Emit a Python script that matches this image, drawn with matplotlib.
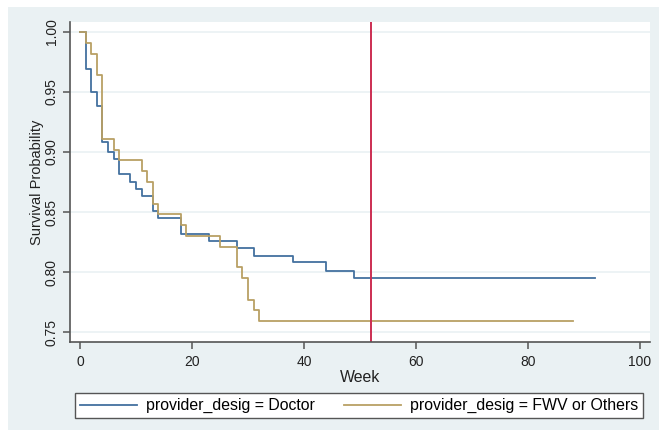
import matplotlib
matplotlib.use("Agg")
import matplotlib.pyplot as plt
import matplotlib.patches as mpatches
import numpy as np

# ── data ──
doctor_weeks = [0, 1, 2, 3, 4, 5, 6, 7, 9, 10, 11, 13, 14, 18, 23, 28, 31, 38, 44, 49, 92]
doctor_surv = [1.000, 0.969, 0.950, 0.938, 0.908, 0.900, 0.894, 0.882, 0.875, 0.869,
               0.863, 0.851, 0.845, 0.832, 0.826, 0.820, 0.813, 0.808, 0.801, 0.795, 0.795]

fwv_weeks = [0, 1, 2, 3, 4, 6, 7, 11, 12, 13, 14, 18, 19, 25, 28, 29, 30, 31, 32, 88]
fwv_surv = [1.000, 0.991, 0.982, 0.964, 0.911, 0.902, 0.893, 0.884, 0.875, 0.857,
            0.848, 0.839, 0.830, 0.821, 0.804, 0.795, 0.777, 0.768, 0.759, 0.759]

cutoff_week = 52
y_ticks = [0.75, 0.80, 0.85, 0.90, 0.95, 1.00]
x_ticks = [0, 20, 40, 60, 80, 100]
labels = ["provider_desig = Doctor", "provider_desig = FWV or Others"]

# ── style ──
BG = "#eaf1f3"
BLUE = "#43719f"
GOLD = "#b9a064"
RED = "#cc2e52"
AXIS = "#555555"
W, H = 659, 432

plt.rcParams["font.family"] = ["Liberation Sans", "DejaVu Sans"]

fig = plt.figure(figsize=(W / 100, H / 100), dpi=100)
fig.patch.set_facecolor("white")
fig.add_artist(mpatches.Rectangle((8 / W, 2 / H), 1 - 8 / W, (430 - 7) / H,
                                  transform=fig.transFigure, facecolor=BG,
                                  edgecolor="none", zorder=-10))

ax = fig.add_axes([70 / W, (H - 342) / H, 580 / W, 320 / H])
ax.set_facecolor("white")

ax.step(doctor_weeks, doctor_surv, where="post", color=BLUE, lw=1.3, label=labels[0])
ax.step(fwv_weeks, fwv_surv, where="post", color=GOLD, lw=1.3, label=labels[1])
ax.axvline(cutoff_week, color=RED, lw=1.4)

ax.set_xlim(-1.79, 101.8)
ax.set_ylim(0.7417, 1.0083)
ax.set_xticks(x_ticks)
ax.set_yticks(y_ticks)
ax.set_yticklabels([f"{v:.2f}" for v in y_ticks], rotation=90, va="center")
ax.yaxis.grid(True, color=BG, lw=1.2)
ax.set_axisbelow(True)

for side in ["top", "right"]:
    ax.spines[side].set_visible(False)
for side in ["left", "bottom"]:
    ax.spines[side].set_color(AXIS)
    ax.spines[side].set_linewidth(1.2)
ax.tick_params(axis="both", colors=AXIS, labelcolor="#222222", labelsize=10,
               length=5, width=1.1, direction="out")
ax.tick_params(axis="y", pad=3)
ax.tick_params(axis="x", pad=4)

ax.set_xlabel("Week", fontsize=11.4, color="#222222", labelpad=1)
ax.set_ylabel("Survival Probability", fontsize=10.5, color="#222222", labelpad=1)

fig.legend(loc="lower left", ncol=2, mode="expand",
           bbox_to_anchor=(75 / W, (H - 418) / H, 568 / W, 28 / H),
           fontsize=11.4, frameon=True, fancybox=False, edgecolor="#555555",
           facecolor="white", framealpha=1, handlelength=3.6, handletextpad=0.6,
           borderaxespad=0, borderpad=0.3)

fig.savefig("out.png", dpi=100, facecolor="white")
